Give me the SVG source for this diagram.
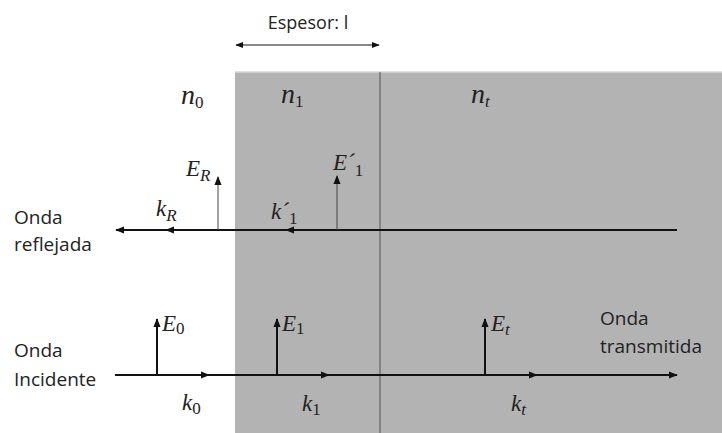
<svg xmlns="http://www.w3.org/2000/svg" width="722" height="433" viewBox="0 0 722 433">
<style>
.lbl{font-family:"Open Sans","Liberation Sans",sans-serif;font-size:19px;fill:#222}
.m{font-family:"Liberation Serif",serif;font-style:italic;font-size:23px;fill:#222}
.n{font-size:28px}
.s{font-size:17px;font-style:normal}
.si{font-size:17px}
.ax{stroke:#111;stroke-width:2;fill:none}
.thin{stroke:#444;stroke-width:1;fill:none}
</style>
<defs>
<marker id="ah" viewBox="0 0 10 10" refX="9" refY="5" markerWidth="9" markerHeight="9" markerUnits="userSpaceOnUse" orient="auto"><path d="M0,1 L10,5 L0,9 z" fill="#111"/></marker>
<marker id="ahs" viewBox="0 0 10 10" refX="9" refY="5" markerWidth="8" markerHeight="8" markerUnits="userSpaceOnUse" orient="auto-start-reverse"><path d="M0,1 L10,5 L0,9 z" fill="#111"/></marker>
</defs>
<rect x="0" y="0" width="722" height="433" fill="#fff"/>
<g id="slab">
<rect x="235" y="72" width="487" height="361" fill="#b3b3b3"/>
<line x1="235" y1="72" x2="722" y2="72" stroke="#d8d8d8" stroke-width="1.5"/>
<line x1="380" y1="72" x2="380" y2="433" stroke="#555" stroke-width="1"/>
</g>
<g id="thickness">
<text class="lbl" x="308" y="29" text-anchor="middle" style="font-size:18px">Espesor: l</text>
<line x1="236" y1="45" x2="379" y2="45" stroke="#111" stroke-width="1" marker-start="url(#ahs)" marker-end="url(#ahs)"/>
</g>
<g id="indices">
<text class="m n" x="181" y="104">n<tspan class="s" dy="4">0</tspan></text>
<text class="m n" x="281" y="103">n<tspan class="s" dy="4">1</tspan></text>
<text class="m n" x="471" y="103">n<tspan class="si" dy="4">t</tspan></text>
</g>
<g id="connectors">
<line class="ax" x1="677" y1="230" x2="116" y2="230" marker-end="url(#ah)"/>
<line class="ax" x1="185" y1="230" x2="166" y2="230" marker-end="url(#ah)"/>
<line class="ax" x1="305" y1="230" x2="286" y2="230" marker-end="url(#ah)"/>
<line class="thin" x1="218" y1="230" x2="218" y2="177" marker-end="url(#ah)"/>
<line class="thin" x1="337" y1="230" x2="337" y2="176" marker-end="url(#ah)"/>
<line class="ax" x1="115" y1="375" x2="677" y2="375" marker-end="url(#ah)"/>
<line class="ax" x1="190" y1="375" x2="209" y2="375" marker-end="url(#ah)"/>
<line class="ax" x1="310" y1="375" x2="329" y2="375" marker-end="url(#ah)"/>
<line class="ax" x1="518" y1="375" x2="537" y2="375" marker-end="url(#ah)"/>
<line class="ax" x1="157" y1="375" x2="157" y2="319" marker-end="url(#ah)"/>
<line class="ax" x1="277" y1="375" x2="277" y2="319" marker-end="url(#ah)"/>
<line class="ax" x1="485" y1="375" x2="485" y2="319" marker-end="url(#ah)"/>
</g>
<g id="reflected">
<text class="lbl" x="14" y="224">Onda</text>
<text class="lbl" x="14" y="251">reflejada</text>
<text class="m" x="186" y="176">E<tspan class="si" dy="5">R</tspan></text>
<text class="m" x="333" y="170">E´<tspan class="s" dy="6">1</tspan></text>
<text class="m" x="156" y="216">k<tspan class="si" dy="5">R</tspan></text>
<text class="m" x="271" y="219">k´<tspan class="s" dy="5">1</tspan></text>
</g>
<g id="incident">
<text class="lbl" x="14" y="357">Onda</text>
<text class="lbl" x="14" y="386">Incidente</text>
<text class="m" x="162" y="331">E<tspan class="s" dy="3">0</tspan></text>
<text class="m" x="282" y="331">E<tspan class="s" dy="3">1</tspan></text>
<text class="m" x="182" y="410">k<tspan class="s" dy="4">0</tspan></text>
<text class="m" x="302" y="411">k<tspan class="s" dy="4">1</tspan></text>
</g>
<g id="transmitted">
<text class="lbl" x="600" y="325">Onda</text>
<text class="lbl" x="600" y="353">transmitida</text>
<text class="m" x="491" y="331">E<tspan class="si" dy="4">t</tspan></text>
<text class="m" x="511" y="411">k<tspan class="si" dy="4">t</tspan></text>
</g>
</svg>
